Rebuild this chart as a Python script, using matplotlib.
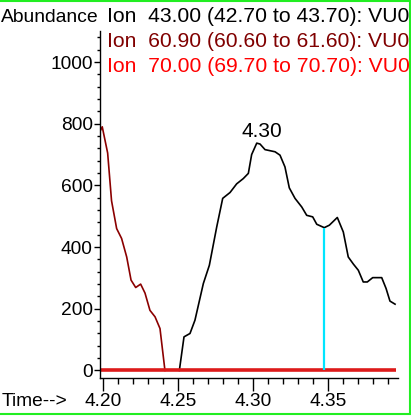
import matplotlib
matplotlib.use('Agg')
import matplotlib.pyplot as plt
from matplotlib.ticker import MultipleLocator, FixedLocator
from matplotlib.patches import Rectangle

plt.rcParams['font.family'] = ['Liberation Sans', 'DejaVu Sans']

# ion 43.00 trace (black)
ion43_time = [4.2507, 4.2538, 4.2578, 4.2611, 4.2667, 4.2707, 4.2756, 4.2796,
              4.2845, 4.2889, 4.2933, 4.2967, 4.2989, 4.3023, 4.3045, 4.3078,
              4.3145, 4.3178, 4.3211, 4.3240, 4.3278, 4.3323, 4.3356, 4.3396,
              4.3423, 4.3473, 4.3507, 4.3560, 4.3600, 4.3633, 4.3667, 4.3700,
              4.3733, 4.3760, 4.3796, 4.3856, 4.3885, 4.3911, 4.3945]
ion43_abund = [0, 109, 120, 163, 282, 341, 465, 558,
               577, 605, 622, 639, 700, 737, 734, 716,
               709, 698, 660, 592, 558, 530, 503, 498,
               474, 463, 471, 496, 449, 368, 345, 325,
               287, 287, 301, 301, 266, 225, 215]

# ion 60.90 trace (dark red)
ion61_time = [4.1978, 4.1993, 4.2029, 4.2055, 4.2089, 4.2122, 4.2156, 4.2185,
              4.2216, 4.2249, 4.2278, 4.2311, 4.2345, 4.2378, 4.2411]
ion61_abund = [775, 790, 705, 550, 460, 428, 368, 293,
               269, 280, 251, 195, 174, 136, 0]

# ion 70.00 trace (red, flat)
ion70_time = [4.1978, 4.3950]
ion70_abund = [0, 0]

# cursor marker
marker_time = 4.3471
marker_abund = 463

peak_label = '4.30'
peak_label_pos = (4.3058, 776)

headers = ['Ion  43.00 (42.70 to 43.70): VU0',
           'Ion  60.90 (60.60 to 61.60): VU0',
           'Ion  70.00 (69.70 to 70.70): VU0']
header_colors = ['black', '#800000', '#ff0000']

W, H = 411, 417
fig = plt.figure(figsize=(W / 100, H / 100), dpi=100)
ax = fig.add_axes([99.5 / W, 1 - 378.3 / H, 298 / W, 347.3 / H])

ax.plot(ion61_time, ion61_abund, color='#8b0000', lw=1.2)
ax.plot(ion43_time, ion43_abund, color='black', lw=1.2)
ax.plot(ion70_time, ion70_abund, color='#dd1a1a', lw=2.6, solid_capstyle='butt')
ax.vlines(marker_time, 0, marker_abund, color='#00e5ff', lw=1.6)

ax.text(peak_label_pos[0], peak_label_pos[1], peak_label, fontsize=15,
        ha='center', va='center')

ax.set_xlim(4.19747, 4.39613)
ax.set_ylim(-25.3, 1100.5)

for s in ['top', 'right']:
    ax.spines[s].set_visible(False)
for s in ['left', 'bottom']:
    ax.spines[s].set_linewidth(1.0)

ax.xaxis.set_major_locator(FixedLocator([4.20, 4.25, 4.30, 4.35]))
ax.xaxis.set_minor_locator(MultipleLocator(0.01))
ax.set_xticklabels(['4.20', '4.25', '4.30', '4.35'])
ax.yaxis.set_major_locator(FixedLocator([0, 200, 400, 600, 800, 1000]))
ax.yaxis.set_minor_locator(MultipleLocator(40))
ax.tick_params(axis='x', which='major', length=9.4, width=1.0, pad=1.5,
               labelsize=13.8)
ax.tick_params(axis='x', which='minor', length=4.3, width=1.0)
ax.tick_params(axis='y', which='major', length=4.3, width=1.0, pad=0.5,
               labelsize=13.8)
ax.tick_params(axis='y', which='minor', length=2.2, width=1.0)

fig.text(99 / W, 1 - 17 / H, 'Abundance', fontsize=13.9, ha='right',
         va='center')
fig.text(67 / W, 1 - 402 / H, 'Time-->', fontsize=13.8, ha='right',
         va='center')
for i, (t, c) in enumerate(zip(headers, header_colors)):
    fig.text(107 / W, 1 - (17 + 24.5 * i) / H, t, fontsize=15.2, color=c,
             ha='left', va='center')

fig.patches.append(Rectangle((-2 / W, 1 - 414 / H), 411.5 / W, 413 / H,
                             transform=fig.transFigure, fill=False,
                             edgecolor='#22ee22', lw=1.5))

fig.savefig('out.png', dpi=100)
